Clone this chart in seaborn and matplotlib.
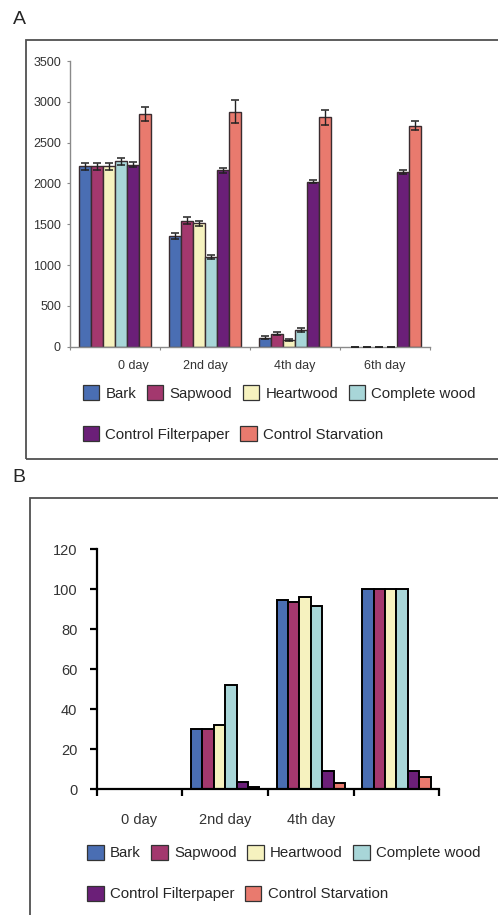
import pandas as pd
import matplotlib
matplotlib.use('Agg')
import matplotlib.pyplot as plt
import matplotlib.patches as mpatches
from matplotlib.transforms import ScaledTranslation
import seaborn as sns

sns.set_style('white')
plt.rcParams['font.family'] = ['Liberation Sans', 'DejaVu Sans']

days = ['0 day', '2nd day', '4th day', '6th day']
series = ['Bark', 'Sapwood', 'Heartwood', 'Complete wood',
          'Control Filterpaper', 'Control Starvation']
colors = ['#4a6eb3', '#a3386e', '#f6f2bf', '#a8d6d8', '#6b1f78', '#e97a6e']

# panel A (values per series, one per day) and error bars
a_bark = [2210, 1360, 110, 0]
a_sapwood = [2210, 1545, 160, 0]
a_heartwood = [2210, 1510, 80, 0]
a_complete = [2270, 1100, 205, 0]
a_filter = [2230, 2160, 2020, 2140]
a_starv = [2850, 2880, 2810, 2710]
a_bark_err = [45, 35, 20, 0]
a_sapwood_err = [45, 40, 20, 0]
a_heartwood_err = [40, 35, 15, 0]
a_complete_err = [45, 20, 25, 0]
a_filter_err = [30, 35, 20, 25]
a_starv_err = [90, 140, 90, 50]
a_ticks = [0, 500, 1000, 1500, 2000, 2500, 3000, 3500]

# panel B
b_bark = [0, 30, 94.5, 100]
b_sapwood = [0, 30, 93.5, 100]
b_heartwood = [0, 32, 96, 100]
b_complete = [0, 52, 91.5, 100]
b_filter = [0, 3.5, 9, 9]
b_starv = [0, 1, 3, 6]
b_ticks = [0, 20, 40, 60, 80, 100, 120]
b_day_labels = ['0 day', '2nd day', '4th day', '']

a_vals = [a_bark, a_sapwood, a_heartwood, a_complete, a_filter, a_starv]
a_errs = [a_bark_err, a_sapwood_err, a_heartwood_err, a_complete_err,
          a_filter_err, a_starv_err]
b_vals = [b_bark, b_sapwood, b_heartwood, b_complete, b_filter, b_starv]


def to_frame(vals):
    rows = []
    for s, v in zip(series, vals):
        for d, y in zip(days, v):
            rows.append({'day': d, 'series': s, 'value': y})
    return pd.DataFrame(rows)


pal = dict(zip(series, colors))
fig = plt.figure(figsize=(4.98, 9.15), dpi=100)

# ---------- panel A ----------
ax = fig.add_axes([0.1406, 0.6211, 0.7229, 0.3122])
sns.barplot(data=to_frame(a_vals), x='day', y='value', hue='series',
            order=days, hue_order=series, palette=pal, saturation=1,
            width=0.8, errorbar=None, edgecolor='#3a2c30', linewidth=1.0,
            legend=False, ax=ax)
for cont, err in zip(ax.containers, a_errs):
    xs = [b.get_x() + b.get_width() / 2 for b in cont]
    hs = [b.get_height() for b in cont]
    ax.errorbar(xs, hs, yerr=err, fmt='none', ecolor='#222222',
                elinewidth=1.0, capsize=3, capthick=1.1, zorder=4,
                clip_on=False)
    for b in cont:
        if b.get_height() == 0:
            b.set_linewidth(0)
ax.set_xlim(-0.5, 3.5)
ax.set_ylim(0, 3500)
ax.set_yticks(a_ticks)
ax.set_xticks(range(4))
ax.set_xticklabels(days)
ax.set_xticks([-0.5, 0.5, 1.5, 2.5, 3.5], minor=True)
ax.set_xlabel('')
ax.set_ylabel('')
sns.despine(ax=ax)
for sp in ['left', 'bottom']:
    ax.spines[sp].set_color('#8a8a8a')
    ax.spines[sp].set_linewidth(1.0)
ax.tick_params(axis='y', left=True, length=2.5, width=0.8, color='#8a8a8a',
               labelsize=9, labelcolor='#333333', pad=4)
ax.tick_params(axis='x', which='major', bottom=True, length=0,
               labelsize=9, labelcolor='#333333', pad=9.5)
ax.tick_params(axis='x', which='minor', bottom=True, length=2.5, width=0.8,
               color='#8a8a8a')
lab = ax.get_xticklabels()[0]
lab.set_transform(lab.get_transform() + ScaledTranslation(0.18, 0, fig.dpi_scale_trans))

# ---------- panel B ----------
bx = fig.add_axes([0.1942, 0.1374, 0.6879, 0.2623])
sns.barplot(data=to_frame(b_vals), x='day', y='value', hue='series',
            order=days, hue_order=series, palette=pal, saturation=1,
            width=0.8, errorbar=None, edgecolor='black', linewidth=1.4,
            legend=False, ax=bx)
for cont in bx.containers:
    for b in cont:
        if b.get_height() == 0:
            b.set_linewidth(0)
bx.set_xlim(-0.5, 3.5)
bx.set_ylim(0, 120)
bx.set_yticks(b_ticks)
bx.set_xticks(range(4))
bx.set_xticklabels(b_day_labels)
bx.set_xticks([-0.5, 0.5, 1.5, 2.5, 3.5], minor=True)
bx.set_xlabel('')
bx.set_ylabel('')
sns.despine(ax=bx)
for sp in ['left', 'bottom']:
    bx.spines[sp].set_color('black')
    bx.spines[sp].set_linewidth(1.6)
bx.tick_params(axis='y', left=True, length=5, width=1.6, color='black',
               labelsize=10.5, labelcolor='#333333', pad=9)
bx.tick_params(axis='x', which='major', bottom=True, length=0,
               labelsize=10.5, labelcolor='#333333', pad=17)
bx.tick_params(axis='x', which='minor', bottom=True, length=5, width=1.6,
               color='black')

# ---------- legends ----------
handles = [mpatches.Patch(facecolor=c, edgecolor='#333333', linewidth=0.9, label=s)
           for s, c in zip(series, colors)]
leg_kw = dict(loc='center left', frameon=False, fontsize=10.8, borderpad=0,
              borderaxespad=0, handlelength=1.1, handleheight=1.17,
              handletextpad=0.42, columnspacing=0.7,
              bbox_transform=fig.transFigure)
fig.legend(handles=handles[:4], ncol=4, bbox_to_anchor=(0.166, 0.5705), **leg_kw)
fig.legend(handles=handles[4:], ncol=2, bbox_to_anchor=(0.166, 0.5257), **leg_kw)
fig.legend(handles=handles[:4], ncol=4, bbox_to_anchor=(0.175, 0.0681), **leg_kw)
fig.legend(handles=handles[4:], ncol=2, bbox_to_anchor=(0.175, 0.0237), **leg_kw)

# ---------- panel frames and letters ----------
fig.add_artist(mpatches.Rectangle((26 / 498, 1 - 459 / 915), 1.0, 419 / 915,
                                  transform=fig.transFigure, fill=False,
                                  edgecolor='#505050', linewidth=1.3))
fig.add_artist(mpatches.Rectangle((30 / 498, -0.1), 1.0, 0.1 + 1 - 498 / 915,
                                  transform=fig.transFigure, fill=False,
                                  edgecolor='#505050', linewidth=1.3))
fig.text(19 / 498, 1 - 20 / 915, 'A', ha='center', va='center', fontsize=14)
fig.text(19 / 498, 1 - 478 / 915, 'B', ha='center', va='center', fontsize=14)

fig.savefig('out.png', dpi=100)
